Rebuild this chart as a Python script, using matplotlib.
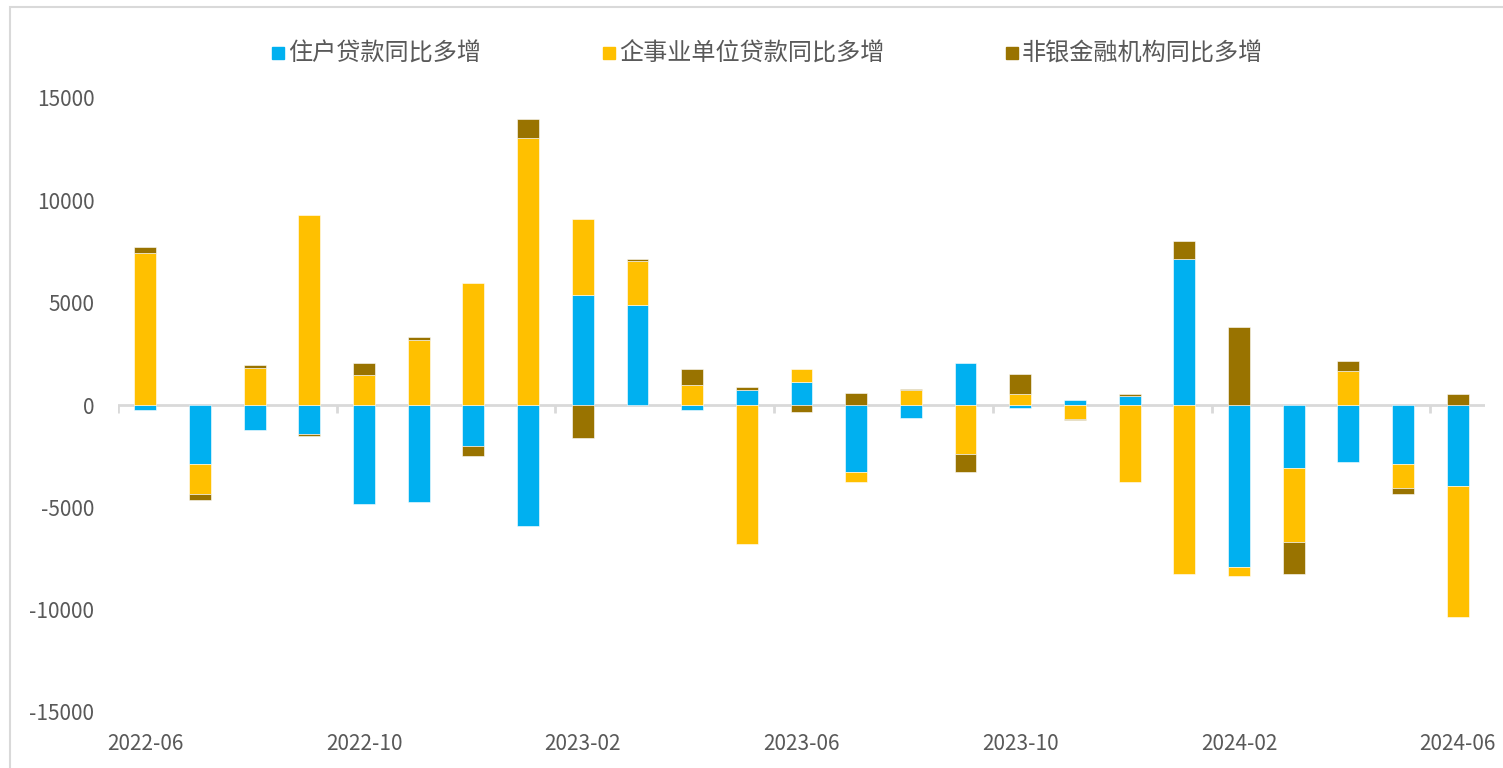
import numpy as np
import matplotlib.pyplot as plt
from matplotlib.lines import Line2D
from matplotlib.patches import Rectangle

plt.rcParams['font.family'] = ['Noto Sans CJK SC', 'DejaVu Sans']

months = ['2022-06', '2022-07', '2022-08', '2022-09', '2022-10', '2022-11', '2022-12',
          '2023-01', '2023-02', '2023-03', '2023-04', '2023-05', '2023-06', '2023-07',
          '2023-08', '2023-09', '2023-10', '2023-11', '2023-12', '2024-01', '2024-02',
          '2024-03', '2024-04', '2024-05', '2024-06']

# 同比多增, 亿元
household = [-250, -2870, -1230, -1405, -4820, -4725, -2025, -5915, 5360, 4890, -250, 710,
             1100, -3260, -645, 2075, -150, 235, 430, 7135, -7930, -3075, -2780, -2880, -3935]
corporate = [7420, -1500, 1815, 9260, 1490, 3165, 5980, 13070, 3725, 2130, 1000, -6775,
             680, -510, 710, -2415, 525, -670, -3760, -8240, -405, -3625, 1685, -1185, -6440]
nonbank = [290, -260, 160, -115, 585, 175, -475, 880, -1600, 115, 780, 190,
           -350, 610, 95, -845, 975, -70, 95, 875, 3815, -1540, 485, -280, 525]

series_names = ['住户贷款同比多增', '企事业单位贷款同比多增', '非银金融机构同比多增']
series_colors = ['#00B0F0', '#FFC000', '#997300']
yticks = [-15000, -10000, -5000, 0, 5000, 10000, 15000]

fig = plt.figure(figsize=(15.03, 7.68), dpi=100)
ax = fig.add_axes([118 / 1503, 1 - 712 / 768, (1485 - 118) / 1503, (712 - 98) / 768])

x = np.arange(len(months))
pos_base = np.zeros(len(months))
neg_base = np.zeros(len(months))
for vals, color in zip([household, corporate, nonbank], series_colors):
    v = np.array(vals, dtype=float)
    bottom = np.where(v >= 0, pos_base, neg_base)
    ax.bar(x, v, bottom=bottom, width=0.4, color=color, edgecolor='white', linewidth=0.4)
    pos_base += np.where(v > 0, v, 0)
    neg_base += np.where(v < 0, v, 0)

ax.set_xlim(-0.5, len(months) - 0.5)
ax.set_ylim(-15000, 15000)
ax.set_yticks(yticks)
ax.set_yticklabels([str(t) for t in yticks])
ax.set_xticks(x[::4])
ax.set_xticklabels(months[::4])
ax.tick_params(axis='both', length=0, labelsize=15, labelcolor='#595959')
ax.tick_params(axis='y', pad=17)
ax.tick_params(axis='x', pad=15)
for sp in ax.spines.values():
    sp.set_visible(False)

# zero line with category-group tick marks
ax.axhline(0, color='#D9D9D9', linewidth=2, zorder=0)
ax.vlines(np.arange(-0.5, len(months), 4), -380, 0, color='#D9D9D9', linewidth=2, zorder=0)

# chart border
fig.add_artist(Rectangle((10 / 1503, -0.1), 1.2, 1 - 7 / 768 + 0.1, transform=fig.transFigure,
                         fill=False, edgecolor='#D9D9D9', linewidth=1.5))

handles = [Line2D([], [], marker='s', linestyle='none', markersize=8.6,
                  markerfacecolor=c, markeredgecolor=c) for c in series_colors]
fig.legend(handles, series_names, loc='center', bbox_to_anchor=(766 / 1503, 1 - 54 / 768),
           ncol=3, frameon=False, fontsize=17.4, labelcolor='#595959',
           handletextpad=0.0, columnspacing=4.9, handlelength=0.8)

fig.savefig('out.png', dpi=100)
